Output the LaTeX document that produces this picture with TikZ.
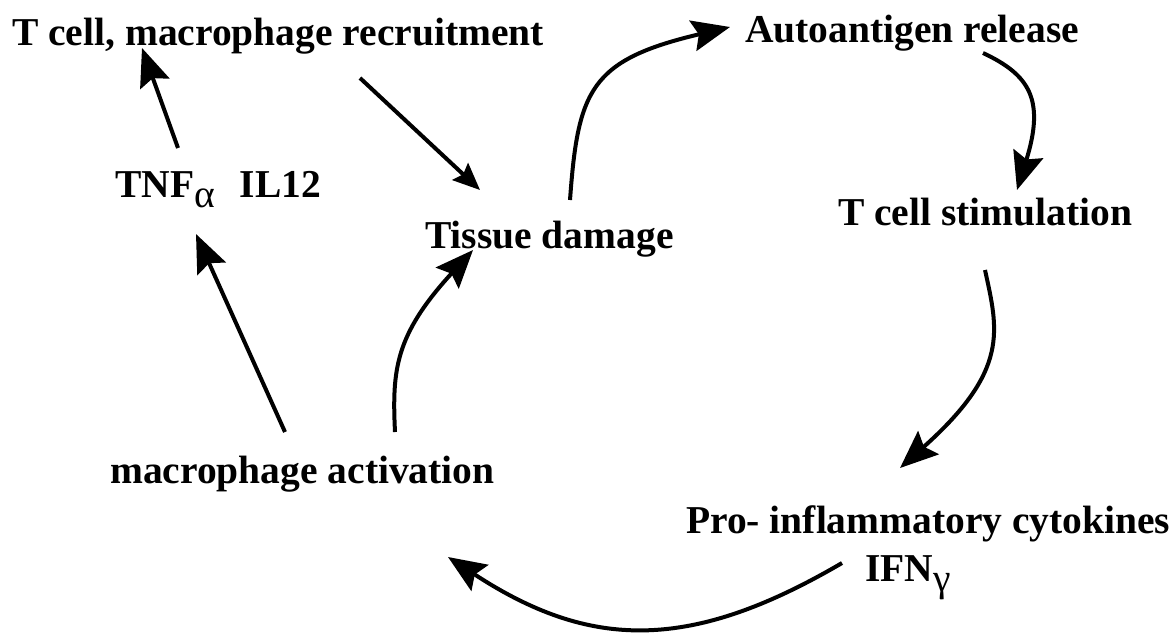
\documentclass[tikz,border=0pt]{standalone}
\usepackage{fontspec}
\setmainfont{Liberation Serif}
\usetikzlibrary{arrows.meta}
\begin{document}
\begin{tikzpicture}[x=1pt,y=-1pt,
    lbl/.style={anchor=base west, inner sep=0pt, font=\fontsize{39.5}{46}\selectfont\bfseries},
    flow/.style={line width=4pt, -{Stealth[length=38pt,width=31pt,inset=6pt]}},
    smallflow/.style={line width=4pt, -{Stealth[length=27pt,width=23pt,inset=4pt]}}]
        \useasboundingbox (0,0) rectangle (1174,633);
        \node[lbl] (rec) at (12,45) {T cell, macrophage recruitment};
        \node[lbl] (auto) at (745,42) {Autoantigen release};
        \node[lbl] (tnf) at (115,197) {TNF\raisebox{-10pt}{\mdseries α}\hspace{25pt}IL12};
        \node[lbl] (tissue) at (425,248) {Tissue damage};
        \node[lbl] (tstim) at (838,225) {T cell stimulation};
        \node[lbl] (mact) at (110,483) {macrophage activation};
        \node[lbl] (pro) at (686,533) {Pro- inflammatory cytokines};
        \node[lbl] (ifn) at (865,581) {IFN\raisebox{-10pt}{\mdseries γ}};
        \draw[flow] ([shift={(63,-49)}]tnf.base west) -- ([shift={(130,3)}]rec.base west);
        \draw[smallflow] ([shift={(348,33)}]rec.base west) -- ([shift={(55,-58)}]tissue.base west);
        \draw[flow] ([shift={(175,-51)}]mact.base west) -- ([shift={(81,37)}]tnf.base west);
        \draw[flow] ([shift={(285,-51)}]mact.base west) .. controls (392,370) and (395,335) .. ([shift={(48,2)}]tissue.base west);
        \draw[flow] ([shift={(145,-48)}]tissue.base west) .. controls (578,90) and (590,60) .. ([shift={(-15,-15)}]auto.base west);
        \draw[flow] ([shift={(238,11)}]auto.base west) .. controls (1030,75) and (1045,100) .. ([shift={(179,-35)}]tstim.base west);
        \draw[flow] ([shift={(147,45)}]tstim.base west) .. controls (998,330) and (1010,370) .. ([shift={(214,-65)}]pro.base west);
        \draw[flow] ([shift={(-23,-18)}]ifn.base west) .. controls (690,652) and (590,650) .. ([shift={(338,74)}]mact.base west);
\end{tikzpicture}
\end{document}
